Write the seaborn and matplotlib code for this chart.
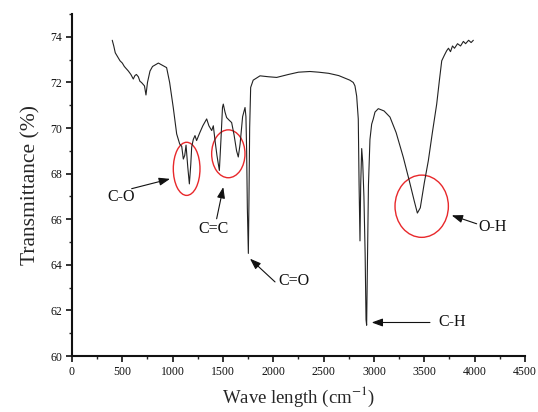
import matplotlib
matplotlib.use("Agg")
import matplotlib.pyplot as plt
from matplotlib.patches import Ellipse
import seaborn as sns
import pandas as pd

# ---- spectrum ----
wavenumber = [400, 415, 430, 450, 477, 500, 520, 540, 560, 585, 609, 625, 640, 659, 675,
              690, 710, 720, 735, 750, 775, 800, 820, 858, 900, 940, 970, 1006, 1040, 1070,
              1090, 1106, 1120, 1133, 1150, 1166, 1180, 1189, 1205, 1222, 1238, 1270, 1300,
              1338, 1360, 1388, 1404, 1421, 1440, 1464, 1480, 1495, 1503, 1520, 1536, 1560,
              1586, 1610, 1635, 1652, 1670, 1695, 1719, 1728, 1735, 1742, 1752, 1758, 1765,
              1775, 1800, 1868, 1950, 2033, 2150, 2250, 2364, 2450, 2550, 2650, 2695, 2760,
              2794, 2811, 2828, 2844, 2852, 2861, 2868, 2878, 2888, 2900, 2912, 2921, 2927,
              2935, 2945, 2960, 2977, 2993, 3010, 3043, 3100, 3159, 3220, 3291, 3350, 3400,
              3431, 3460, 3500, 3540, 3580, 3623, 3650, 3673, 3700, 3722, 3740, 3760, 3780,
              3800, 3830, 3860, 3888, 3910, 3940, 3965, 3987]
transmittance = [73.85, 73.6, 73.3, 73.15, 72.95, 72.85, 72.7, 72.6, 72.5, 72.35, 72.15, 72.3,
                 72.35, 72.25, 72.05, 72.0, 71.9, 71.85, 71.45, 72.0, 72.5, 72.7, 72.75, 72.85,
                 72.75, 72.65, 72.0, 70.9, 69.74, 69.3, 69.2, 68.64, 68.8, 69.25, 68.3, 67.55,
                 68.4, 69.16, 69.5, 69.67, 69.45, 69.8, 70.1, 70.4, 70.1, 69.89, 70.1, 69.45,
                 68.8, 68.14, 69.5, 70.9, 71.05, 70.7, 70.46, 70.35, 70.24, 69.7, 69.0, 68.73,
                 69.3, 70.5, 70.9, 70.5, 69.0, 66.5, 64.5, 66.8, 70.0, 71.78, 72.1, 72.29,
                 72.25, 72.22, 72.35, 72.45, 72.48, 72.45, 72.4, 72.3, 72.22, 72.1, 72.0, 71.85,
                 71.4, 70.4, 67.5, 65.05, 67.5, 69.1, 68.5, 67.0, 64.5, 61.6, 61.35, 64.0, 67.5,
                 69.5, 70.17, 70.4, 70.7, 70.85, 70.75, 70.48, 69.8, 68.72, 67.7, 66.8, 66.27,
                 66.5, 67.6, 68.57, 69.8, 71.05, 72.1, 72.95, 73.2, 73.39, 73.5, 73.35, 73.6,
                 73.5, 73.7, 73.6, 73.8, 73.7, 73.85, 73.75, 73.85]

# ---- annotations: label, text position, arrow head, arrow tail ----
labels = ["C-O", "C=C", "C=O", "C-H", "O-H"]
text_xy = [(485, 66.97), (1401, 65.56), (2205, 63.28), (3780, 61.5), (4177, 65.66)]
head_xy = [(974, 67.77), (1503, 67.41), (1768, 64.27), (2977, 61.47), (3772, 66.17)]
tail_xy = [(593, 67.34), (1437, 66.02), (2017, 63.25), (3556, 61.47), (4020, 65.8)]

# red circles (center x, center y, width, height) in data units
circles = [(1139, 68.21, 265, 2.33), (1553, 68.87, 331, 2.10), (3474, 66.57, 530, 2.73)]

df = pd.DataFrame({"wavenumber": wavenumber, "T": transmittance})

sns.set_theme(style="ticks")
plt.rcParams["font.family"] = ["Liberation Serif", "DejaVu Serif"]
plt.rcParams["mathtext.fontset"] = "stix"

fig = plt.figure(figsize=(5.38, 4.12), dpi=100)
ax = fig.add_axes([0.1338, 0.1359, 0.842, 0.830])

sns.lineplot(data=df, x="wavenumber", y="T", color="#222222", linewidth=0.8, ax=ax)

for cx, cy, w, h in circles:
    ax.add_patch(Ellipse((cx, cy), w, h, fill=False, edgecolor="#e8282b", linewidth=1.0))

for lab, txy, hxy, axy in zip(labels, text_xy, head_xy, tail_xy):
    ax.text(txy[0], txy[1], lab, ha="center", va="center", fontsize=11.5, color="#111111")
    ax.annotate("", xy=hxy, xytext=axy,
                arrowprops=dict(arrowstyle="-|>,head_length=0.55,head_width=0.2",
                                color="#111111", lw=0.8, shrinkA=0, shrinkB=0))

ax.set_xlim(0, 4500)
ax.set_ylim(60, 75)
ax.set_xticks(range(0, 4501, 500))
ax.set_xticks(range(250, 4500, 500), minor=True)
ax.set_yticks(range(60, 75, 2))
ax.set_yticks(range(61, 76, 2), minor=True)
ax.tick_params(axis="both", which="major", direction="out", length=4, width=1.2,
               labelsize=8.5, colors="#111111", pad=3)
ax.tick_params(axis="both", which="minor", direction="out", length=2.5, width=1.0)

for side in ["top", "right"]:
    ax.spines[side].set_visible(False)
for side in ["left", "bottom"]:
    ax.spines[side].set_linewidth(1.5)
    ax.spines[side].set_color("#111111")

ax.set_xlabel("Wave length (cm$^{-1}$)", fontsize=13.5, labelpad=5)
ax.set_ylabel("Transmittance (%)", fontsize=15.5, labelpad=7)

fig.savefig("out.png", dpi=100)
